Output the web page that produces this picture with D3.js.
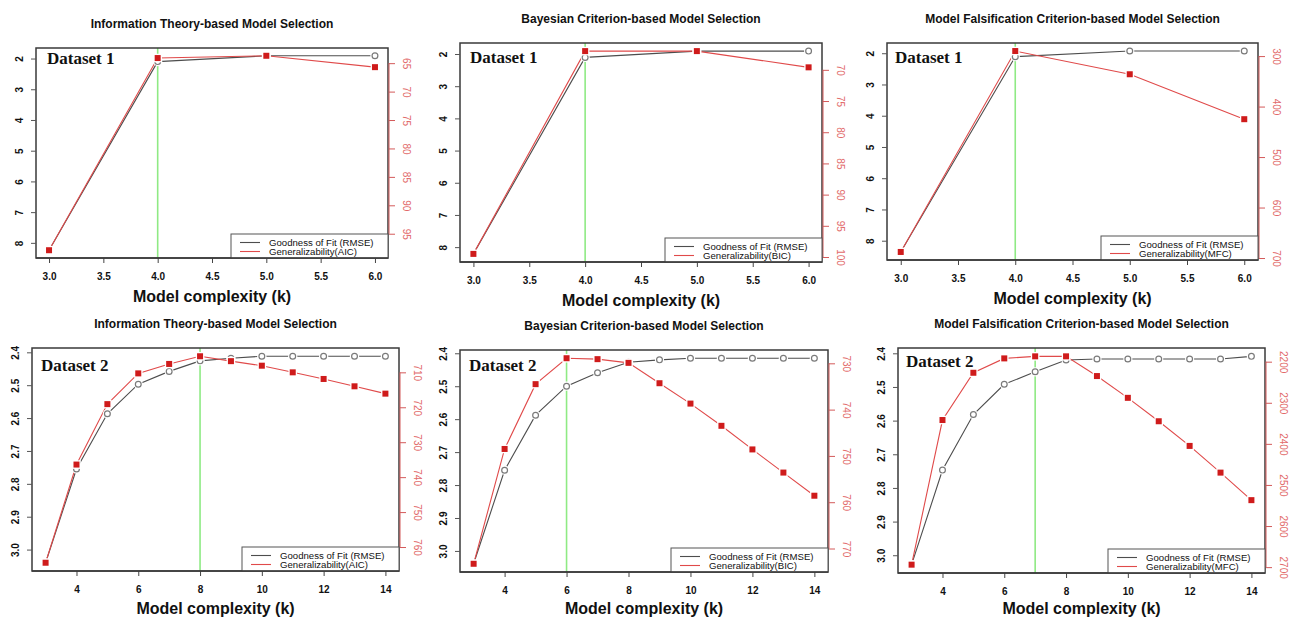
<!DOCTYPE html>
<html><head><meta charset="utf-8">
<script src="https://cdn.jsdelivr.net/npm/d3@7"></script>
<style>
body{margin:0;background:#fff;}
svg{display:block;}
</style></head>
<body>
<svg id="chart" width="1295" height="619"></svg>
<script>
// ---------- DATA ----------
const ds1K = [3, 4, 5, 6];
const ds2K = [3, 4, 5, 6, 7, 8, 9, 10, 11, 12, 13, 14];

const titles = ["Information Theory-based Model Selection",
                "Bayesian Criterion-based Model Selection",
                "Model Falsification Criterion-based Model Selection"];
const criteria = ["AIC", "BIC", "MFC"];
const datasetNames = ["Dataset 1", "Dataset 2"];

const p1Rmse = [8.24, 2.10, 1.91, 1.91];
const p1Aic  = [97.9, 64.1, 63.7, 65.7];
const p2Rmse = [8.21, 2.105, 1.91, 1.91];
const p2Bic  = [99.5, 67.0, 67.0, 69.6];
const p3Rmse = [8.36, 2.11, 1.93, 1.93];
const p3Mfc  = [688, 290, 336, 425];

const p4Rmse = [3.04, 2.755, 2.587, 2.497, 2.458, 2.426, 2.418, 2.412, 2.412, 2.412, 2.412, 2.412];
const p4Aic  = [764.5, 736.4, 719.1, 710.3, 707.6, 705.4, 706.8, 708.1, 710.0, 711.9, 714.0, 716.1];
const p5Rmse = [3.039, 2.755, 2.588, 2.50, 2.459, 2.427, 2.42, 2.415, 2.415, 2.415, 2.415, 2.415];
const p5Bic  = [773.3, 748.5, 734.5, 728.9, 729.1, 729.9, 734.3, 738.7, 743.5, 748.6, 753.6, 758.6];
const p6Rmse = [3.028, 2.747, 2.582, 2.492, 2.455, 2.42, 2.417, 2.417, 2.417, 2.417, 2.417, 2.409];
const p6Mfc  = [2694, 2342, 2227, 2192, 2187, 2187, 2235, 2288, 2345, 2405, 2470, 2537];

const selectedK = [4, 4, 4, 8, 6, 7];

const ds1XTicks = [3.0, 3.5, 4.0, 4.5, 5.0, 5.5, 6.0];
const ds2XTicks = [4, 6, 8, 10, 12, 14];
const ds1YTicks = [2, 3, 4, 5, 6, 7, 8];
const ds2YTicks = [2.4, 2.5, 2.6, 2.7, 2.8, 2.9, 3.0];
const p1RTicks = [65, 70, 75, 80, 85, 90, 95];
const p2RTicks = [70, 75, 80, 85, 90, 95, 100];
const p3RTicks = [300, 400, 500, 600, 700];
const p4RTicks = [710, 720, 730, 740, 750, 760];
const p5RTicks = [730, 740, 750, 760, 770];
const p6RTicks = [2200, 2300, 2400, 2500, 2600, 2700];

// ---------- LAYOUT ----------
const boxes = [
  {x0: 36,  x1: 388,  y0: 48,  y1: 258},
  {x0: 460, x1: 822,  y0: 43,  y1: 262},
  {x0: 887, x1: 1258, y0: 43,  y1: 260},
  {x0: 32,  x1: 399,  y0: 348, y1: 571},
  {x0: 460, x1: 828,  y0: 350, y1: 572},
  {x0: 898, x1: 1265, y0: 348, y1: 573}
];
const labelOffsets = [[11, 16], [10, 20], [8, 20], [9, 23], [9, 21], [8, 19]];

const panels = [
  {k: ds1K, rmse: p1Rmse, gen: p1Aic, xt: ds1XTicks, yt: ds1YTicks, rt: p1RTicks, title: titles[0], crit: criteria[0], ds: datasetNames[0], xf: ".1f", yf: "d"},
  {k: ds1K, rmse: p2Rmse, gen: p2Bic, xt: ds1XTicks, yt: ds1YTicks, rt: p2RTicks, title: titles[1], crit: criteria[1], ds: datasetNames[0], xf: ".1f", yf: "d"},
  {k: ds1K, rmse: p3Rmse, gen: p3Mfc, xt: ds1XTicks, yt: ds1YTicks, rt: p3RTicks, title: titles[2], crit: criteria[2], ds: datasetNames[0], xf: ".1f", yf: "d"},
  {k: ds2K, rmse: p4Rmse, gen: p4Aic, xt: ds2XTicks, yt: ds2YTicks, rt: p4RTicks, title: titles[0], crit: criteria[0], ds: datasetNames[1], xf: "d", yf: ".1f"},
  {k: ds2K, rmse: p5Rmse, gen: p5Bic, xt: ds2XTicks, yt: ds2YTicks, rt: p5RTicks, title: titles[1], crit: criteria[1], ds: datasetNames[1], xf: "d", yf: ".1f"},
  {k: ds2K, rmse: p6Rmse, gen: p6Mfc, xt: ds2XTicks, yt: ds2YTicks, rt: p6RTicks, title: titles[2], crit: criteria[2], ds: datasetNames[1], xf: "d", yf: ".1f"}
];

const SANS = "'Liberation Sans', Arial, Helvetica, sans-serif";
const SERIF = "'Liberation Serif', 'Times New Roman', serif";
const GRAY_LINE = "#4d4d4d", GRAY_PT = "#7a7a7a";
const RED_LINE = "#e04a4a", RED_PT = "#cf1b1b", RED_AX = "#d45a5a", RED_TXT = "#e26a6a";
const GREEN = "#8fea84";

const svg = d3.select("#chart");

// R-style padded domain (4% each side)
function padded(vals) {
  const [a, b] = d3.extent(vals);
  const p = (b - a) * 0.04;
  return [a - p, b + p];
}

panels.forEach((P, i) => {
  const B = boxes[i];
  const g = svg.append("g");
  const x = d3.scaleLinear().domain(padded(P.k)).range([B.x0, B.x1]);
  const yL = d3.scaleLinear().domain(padded(P.rmse)).range([B.y0, B.y1]); // inverted: small at top
  const yR = d3.scaleLinear().domain(padded(P.gen)).range([B.y0, B.y1]);

  // title
  g.append("text").attr("x", (B.x0 + B.x1) / 2).attr("y", B.y0 - 20)
    .attr("text-anchor", "middle").attr("font-family", SANS).attr("font-weight", "bold")
    .attr("font-size", 12).attr("fill", "#111").text(P.title);

  // green selected line
  g.append("line").attr("x1", x(selectedK[i])).attr("x2", x(selectedK[i]))
    .attr("y1", B.y0).attr("y2", B.y1).attr("stroke", GREEN).attr("stroke-width", 1.6);

  // lines
  const lineL = d3.line().x((d, j) => x(P.k[j])).y(d => yL(d));
  const lineR = d3.line().x((d, j) => x(P.k[j])).y(d => yR(d));
  g.append("path").attr("d", lineL(P.rmse)).attr("fill", "none").attr("stroke", GRAY_LINE).attr("stroke-width", 1.1);
  g.append("path").attr("d", lineR(P.gen)).attr("fill", "none").attr("stroke", RED_LINE).attr("stroke-width", 1.1);

  // gray points (type b: gaps)
  g.selectAll(".ch").data(P.rmse).join("circle")
    .attr("cx", (d, j) => x(P.k[j])).attr("cy", d => yL(d)).attr("r", 4.6).attr("fill", "#fff");
  g.selectAll(".cp").data(P.rmse).join("circle")
    .attr("cx", (d, j) => x(P.k[j])).attr("cy", d => yL(d)).attr("r", 2.9)
    .attr("fill", "#fff").attr("stroke", GRAY_PT).attr("stroke-width", 1.2);
  // red squares
  g.selectAll(".sh").data(P.gen).join("rect")
    .attr("x", (d, j) => x(P.k[j]) - 4.3).attr("y", d => yR(d) - 4.3)
    .attr("width", 8.6).attr("height", 8.6).attr("fill", "#fff");
  g.selectAll(".sp").data(P.gen).join("rect")
    .attr("x", (d, j) => x(P.k[j]) - 3).attr("y", d => yR(d) - 3)
    .attr("width", 6).attr("height", 6).attr("fill", RED_PT);

  // box
  g.append("rect").attr("x", B.x0).attr("y", B.y0).attr("width", B.x1 - B.x0).attr("height", B.y1 - B.y0)
    .attr("fill", "none").attr("stroke", "#3a3a3a").attr("stroke-width", 1.5);

  // bottom axis
  const ax = g.append("g").attr("transform", `translate(0,${B.y1})`)
    .call(d3.axisBottom(x).tickValues(P.xt).tickFormat(d3.format(P.xf)).tickSize(5).tickSizeOuter(0).tickPadding(6));
  ax.select(".domain").remove();
  ax.selectAll("line").attr("stroke", "#444");
  ax.selectAll("text").attr("font-family", SANS).attr("font-weight", "bold").attr("font-size", 10).attr("fill", "#111")
    .attr("y", 22).attr("dy", null);

  // left axis
  const al = g.append("g").attr("transform", `translate(${B.x0},0)`)
    .call(d3.axisLeft(yL).tickValues(P.yt).tickFormat(d3.format(P.yf)).tickSize(5).tickSizeOuter(0));
  al.select(".domain").remove();
  al.selectAll("line").attr("stroke", "#555");
  al.selectAll("text").attr("font-family", SANS).attr("font-weight", "bold").attr("font-size", 10).attr("fill", "#111")
    .attr("x", 0).attr("dy", "0.35em").attr("text-anchor", "middle")
    .attr("transform", "translate(-16.5,0) rotate(-90)");

  // right axis
  const ar = g.append("g").attr("transform", `translate(${B.x1 + 1},0)`)
    .call(d3.axisRight(yR).tickValues(P.rt).tickFormat(d3.format("d")).tickSize(6).tickSizeOuter(0));
  ar.select(".domain").remove();
  ar.append("line").attr("x1", 0).attr("x2", 0)
    .attr("y1", yR(P.rt[0])).attr("y2", yR(P.rt[P.rt.length - 1]))
    .attr("stroke", RED_AX).attr("stroke-width", 1);
  ar.selectAll(".tick line").attr("stroke", RED_AX);
  ar.selectAll("text").attr("font-family", SANS).attr("font-size", 10).attr("fill", RED_TXT)
    .attr("x", 0).attr("dy", "0.35em").attr("text-anchor", "middle")
    .attr("transform", "translate(17,0) rotate(90)");

  // x axis title
  g.append("text").attr("x", (B.x0 + B.x1) / 2).attr("y", Math.min(B.y1 + 44, 614))
    .attr("text-anchor", "middle").attr("font-family", SANS).attr("font-weight", "bold")
    .attr("font-size", 16).attr("fill", "#111").text("Model complexity (k)");

  // dataset label
  g.append("text").attr("x", B.x0 + labelOffsets[i][0]).attr("y", B.y0 + labelOffsets[i][1])
    .attr("font-family", SERIF).attr("font-weight", "bold").attr("font-size", 17).attr("fill", "#111")
    .text(P.ds);

  // legend
  const LW = 157, LH = 24;
  const lg = g.append("g").attr("transform", `translate(${B.x1 - LW},${B.y1 - LH})`);
  lg.append("rect").attr("width", LW).attr("height", LH).attr("fill", "#fff").attr("stroke", "#555").attr("stroke-width", 1);
  lg.append("line").attr("x1", 9).attr("x2", 29).attr("y1", 8.5).attr("y2", 8.5).attr("stroke", GRAY_LINE).attr("stroke-width", 1.1);
  lg.append("line").attr("x1", 9).attr("x2", 29).attr("y1", 17.5).attr("y2", 17.5).attr("stroke", RED_LINE).attr("stroke-width", 1.1);
  lg.append("text").attr("x", 38).attr("y", 11.8).attr("font-family", SANS).attr("font-size", 9.6).attr("fill", "#111")
    .text("Goodness of Fit (RMSE)");
  lg.append("text").attr("x", 38).attr("y", 21).attr("font-family", SANS).attr("font-size", 9.6).attr("fill", "#111")
    .text("Generalizability(" + P.crit + ")");
  // redraw box bottom edge over legend
  g.append("line").attr("x1", B.x0).attr("x2", B.x1).attr("y1", B.y1).attr("y2", B.y1)
    .attr("stroke", "#3a3a3a").attr("stroke-width", 1.5);
});
</script>
</body></html>
